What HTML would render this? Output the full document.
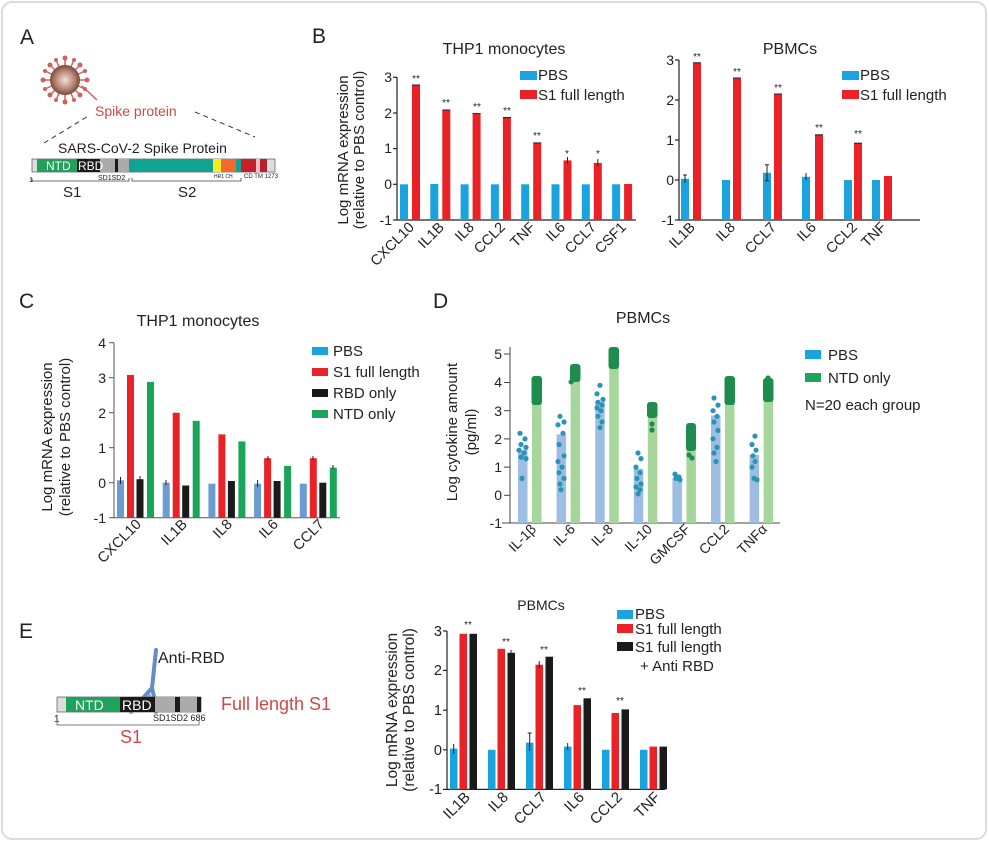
<!DOCTYPE html>
<html><head><meta charset="utf-8"><style>
html,body{margin:0;padding:0;background:#fff;}
svg{display:block;font-family:"Liberation Sans",Arial,sans-serif;}
.t{font-size:15px;fill:#222}
.s{font-size:10px;fill:#222}
</style></head><body>
<svg width="989" height="843" viewBox="0 0 989 843" xmlns="http://www.w3.org/2000/svg">
<defs><radialGradient id="vg" cx="50%" cy="50%" r="50%"><stop offset="0" stop-color="#f3e0d8"/><stop offset="0.6" stop-color="#b98a78"/><stop offset="1" stop-color="#7a4a3a"/></radialGradient></defs>
<rect x="2" y="2" width="984" height="837" rx="10" fill="#fff" stroke="#dcdcdc" stroke-width="2"/>

<!-- Panel A -->
<text x="20" y="44" style="font-size:21px" fill="#222">A</text>
<g stroke="#d0605a" stroke-width="1.5">
<line x1="65" y1="58" x2="65" y2="102"/><line x1="43" y1="80" x2="87" y2="80"/>
<line x1="50" y1="65" x2="80" y2="95"/><line x1="80" y1="65" x2="50" y2="95"/>
<line x1="56" y1="60" x2="74" y2="100"/><line x1="74" y1="60" x2="56" y2="100"/>
<line x1="45" y1="71" x2="85" y2="89"/><line x1="45" y1="89" x2="85" y2="71"/>
<line x1="82" y1="86" x2="97" y2="100"/>
</g>
<g fill="#d0605a"><circle cx="65" cy="58" r="2.5"/><circle cx="65" cy="102" r="2.5"/><circle cx="43" cy="80" r="2.5"/><circle cx="87" cy="80" r="2.5"/><circle cx="50" cy="65" r="2.5"/><circle cx="80" cy="65" r="2.5"/><circle cx="50" cy="95" r="2.5"/><circle cx="80" cy="95" r="2.5"/><circle cx="56" cy="60" r="2"/><circle cx="74" cy="60" r="2"/><circle cx="56" cy="100" r="2"/><circle cx="74" cy="100" r="2"/><circle cx="45" cy="71" r="2"/><circle cx="85" cy="89" r="2"/><circle cx="45" cy="89" r="2"/><circle cx="85" cy="71" r="2"/></g>
<circle cx="65" cy="80" r="15" fill="url(#vg)"/>
<text x="95" y="116" style="font-size:14px" fill="#d04848">Spike protein</text>
<g stroke="#333" stroke-dasharray="5,4" stroke-width="1"><line x1="44" y1="143" x2="90" y2="115"/><line x1="195" y1="112" x2="255" y2="137"/></g>
<text x="58" y="153" style="font-size:14px" fill="#222">SARS-CoV-2 Spike Protein</text>
<rect x="32" y="159" width="243" height="13" fill="#ddd" stroke="#555" stroke-width="0.7"/>
<rect x="37" y="159" width="40" height="13" fill="#1fa35a"/>
<rect x="77" y="159" width="23" height="13" fill="#1a1a1a"/>
<rect x="100" y="159" width="15" height="13" fill="#aaa"/>
<rect x="115" y="159" width="3" height="13" fill="#1a1a1a"/>
<rect x="118" y="159" width="11" height="13" fill="#aaa"/>
<rect x="129" y="159" width="84" height="13" fill="#0fa392"/>
<rect x="213" y="159" width="8" height="13" fill="#f3ee20"/>
<rect x="221" y="159" width="15" height="13" fill="#f36a2c"/>
<rect x="236" y="159" width="5" height="13" fill="#0fa392"/>
<rect x="241" y="159" width="15" height="13" fill="#c8202a"/>
<rect x="256" y="159" width="4" height="13" fill="#f2c0c0"/>
<rect x="260" y="159" width="7" height="13" fill="#b82030"/>
<text x="46" y="170" style="font-size:12px" fill="#fff">NTD</text>
<text x="78" y="170" style="font-size:12px" fill="#fff">RBD</text>
<text x="29" y="182" style="font-size:7px" fill="#222">1</text>
<text x="98" y="180" style="font-size:7px" fill="#222">SD1SD2</text>
<text x="214" y="178" style="font-size:5px" fill="#222">HR1 CH</text>
<text x="244" y="178" style="font-size:6px" fill="#222">CD  TM 1273</text>
<g stroke="#444" stroke-width="0.8" fill="none"><path d="M32 178 V181 H129 V178"/><path d="M132 178 V181 H241 V178"/></g>
<text x="63" y="197" style="font-size:15px" fill="#222">S1</text>
<text x="178" y="197" style="font-size:15px" fill="#222">S2</text>

<!-- Panel B -->
<text x="312" y="43" style="font-size:21px" fill="#222">B</text>
<text x="504" y="54" text-anchor="middle" style="font-size:16px" fill="#222">THP1 monocytes</text>
<text x="790" y="54" text-anchor="middle" style="font-size:16px" fill="#222">PBMCs</text>
<g transform="translate(348,150) rotate(-90)"><text text-anchor="middle" class="t">Log mRNA expression</text></g>
<g transform="translate(364,150) rotate(-90)"><text text-anchor="middle" class="t">(relative to PBS control)</text></g>
<g stroke="#222" stroke-width="1.2"><line x1="397" y1="77" x2="397" y2="220"/><line x1="397" y1="220" x2="636" y2="220"/>
<line x1="393" y1="77.3" x2="397" y2="77.3"/><line x1="393" y1="113" x2="397" y2="113"/><line x1="393" y1="148.6" x2="397" y2="148.6"/><line x1="393" y1="184.3" x2="397" y2="184.3"/><line x1="393" y1="220" x2="397" y2="220"/></g>
<g class="t" text-anchor="end" style="font-size:14px"><text x="392" y="82">3</text><text x="392" y="118">2</text><text x="392" y="153">1</text><text x="392" y="189">0</text><text x="392" y="225">-1</text></g>
<g fill="#1ba3e0"><rect x="400" y="184.3" width="8" height="35.7"/><rect x="430.3" y="184" width="8" height="36"/><rect x="460.6" y="184.3" width="8" height="35.7"/><rect x="490.9" y="184.3" width="8" height="35.7"/><rect x="521.2" y="184.3" width="8" height="35.7"/><rect x="551.5" y="184.3" width="8" height="35.7"/><rect x="581.8" y="184.3" width="8" height="35.7"/><rect x="612.1" y="184.3" width="8" height="35.7"/></g>
<g fill="#ea2228"><rect x="412" y="85.1" width="8" height="134.9"/><rect x="442.3" y="110" width="8" height="110"/><rect x="472.6" y="113.6" width="8" height="106.4"/><rect x="502.9" y="117.5" width="8" height="102.5"/><rect x="533.2" y="142.9" width="8" height="77.1"/><rect x="563.5" y="160.4" width="8" height="59.6"/><rect x="593.8" y="162.9" width="8" height="57.1"/><rect x="624.1" y="184" width="8" height="36"/></g>
<g stroke="#222" stroke-width="1"><line x1="412" y1="85" x2="420" y2="85"/><line x1="442.3" y1="110" x2="450.3" y2="110"/><line x1="472.6" y1="113.6" x2="480.6" y2="113.6"/><line x1="502.9" y1="117.5" x2="510.9" y2="117.5"/><line x1="533.2" y1="142.9" x2="541.2" y2="142.9"/><line x1="567.5" y1="157" x2="567.5" y2="164"/><line x1="597.8" y1="159" x2="597.8" y2="166"/></g>
<g class="s" text-anchor="middle"><text x="416" y="82">**</text><text x="446" y="106">**</text><text x="477" y="110">**</text><text x="507" y="114">**</text><text x="537" y="139">**</text><text x="567" y="157">*</text><text x="598" y="157">*</text></g>
<g class="t" text-anchor="end" style="font-size:14.5px">
<text transform="translate(415,228) rotate(-45)">CXCL10</text><text transform="translate(445,228) rotate(-45)">IL1B</text><text transform="translate(475,228) rotate(-45)">IL8</text><text transform="translate(506,228) rotate(-45)">CCL2</text><text transform="translate(536,228) rotate(-45)">TNF</text><text transform="translate(566,228) rotate(-45)">IL6</text><text transform="translate(597,228) rotate(-45)">CCL7</text><text transform="translate(627,228) rotate(-45)">CSF1</text></g>
<rect x="520" y="71" width="17" height="9" fill="#1ba3e0"/><text x="538" y="80" class="t">PBS</text>
<rect x="520" y="90" width="17" height="9" fill="#ea2228"/><text x="538" y="100" class="t">S1 full length</text>

<g stroke="#222" stroke-width="1.2"><line x1="679" y1="60" x2="679" y2="220"/><line x1="679" y1="220" x2="920" y2="220"/>
<line x1="675" y1="60" x2="679" y2="60"/><line x1="675" y1="100" x2="679" y2="100"/><line x1="675" y1="140" x2="679" y2="140"/><line x1="675" y1="180" x2="679" y2="180"/><line x1="675" y1="220" x2="679" y2="220"/></g>
<g class="t" text-anchor="end" style="font-size:14px"><text x="674" y="65">3</text><text x="674" y="105">2</text><text x="674" y="145">1</text><text x="674" y="185">0</text><text x="674" y="225">-1</text></g>
<g fill="#1ba3e0"><rect x="681" y="178.8" width="8" height="41.2"/><rect x="722" y="180" width="8" height="40"/><rect x="763" y="172.8" width="8" height="47.2"/><rect x="802" y="176.8" width="8" height="43.2"/><rect x="844" y="180" width="8" height="40"/><rect x="872" y="180" width="8" height="40"/></g>
<g fill="#ea2228"><rect x="693" y="62.8" width="8" height="157.2"/><rect x="733" y="78" width="8" height="142"/><rect x="774" y="94" width="8" height="126"/><rect x="815" y="134.8" width="8" height="85.2"/><rect x="854" y="143.2" width="8" height="76.8"/><rect x="884" y="176" width="8" height="44"/></g>
<g stroke="#222" stroke-width="1"><line x1="685" y1="175" x2="685" y2="183"/><line x1="683" y1="175" x2="687" y2="175"/><line x1="767" y1="164.8" x2="767" y2="180.8"/><line x1="765" y1="164.8" x2="769" y2="164.8"/><line x1="765" y1="180.8" x2="769" y2="180.8"/><line x1="806" y1="173" x2="806" y2="180"/><line x1="693" y1="62.8" x2="701" y2="62.8"/><line x1="733" y1="78" x2="741" y2="78"/><line x1="774" y1="94" x2="782" y2="94"/><line x1="815" y1="134.8" x2="823" y2="134.8"/><line x1="854" y1="143.2" x2="862" y2="143.2"/></g>
<g class="s" text-anchor="middle"><text x="697" y="60">**</text><text x="737" y="75">**</text><text x="778" y="91">**</text><text x="819" y="131">**</text><text x="858" y="137">**</text></g>
<g class="t" text-anchor="end" style="font-size:14.5px">
<text transform="translate(696,228) rotate(-45)">IL1B</text><text transform="translate(736,228) rotate(-45)">IL8</text><text transform="translate(777,228) rotate(-45)">CCL7</text><text transform="translate(817,228) rotate(-45)">IL6</text><text transform="translate(858,228) rotate(-45)">CCL2</text><text transform="translate(887,228) rotate(-45)">TNF</text></g>
<rect x="842" y="71" width="17" height="9" fill="#1ba3e0"/><text x="860" y="80" class="t">PBS</text>
<rect x="842" y="90" width="17" height="9" fill="#ea2228"/><text x="860" y="100" class="t">S1 full length</text>

<!-- Panel C -->
<text x="19" y="308" style="font-size:21px" fill="#222">C</text>
<text x="198" y="326" text-anchor="middle" style="font-size:16px" fill="#222">THP1 monocytes</text>
<g transform="translate(52,437) rotate(-90)"><text text-anchor="middle" class="t">Log mRNA expression</text></g>
<g transform="translate(70,437) rotate(-90)"><text text-anchor="middle" class="t">(relative to PBS control)</text></g>
<g stroke="#555" stroke-width="1"><line x1="114" y1="342.7" x2="114" y2="517.7"/><line x1="114" y1="517.7" x2="340" y2="517.7"/>
<line x1="109" y1="342.7" x2="114" y2="342.7"/><line x1="109" y1="377.7" x2="114" y2="377.7"/><line x1="109" y1="412.7" x2="114" y2="412.7"/><line x1="109" y1="447.7" x2="114" y2="447.7"/><line x1="109" y1="482.7" x2="114" y2="482.7"/><line x1="109" y1="517.7" x2="114" y2="517.7"/></g>
<g class="t" text-anchor="end" style="font-size:14px"><text x="106" y="348">4</text><text x="106" y="383">3</text><text x="106" y="418">2</text><text x="106" y="453">1</text><text x="106" y="488">0</text><text x="106" y="523">-1</text></g>
<g fill="#6b9bd1"><rect x="117" y="480.3" width="7" height="37.4"/><rect x="162.7" y="482.7" width="7" height="35"/><rect x="208.4" y="483.7" width="7" height="34"/><rect x="254.1" y="483.7" width="7" height="34"/><rect x="299.8" y="483.7" width="7" height="34"/></g>
<g fill="#ea2228"><rect x="127" y="374.9" width="7" height="142.8"/><rect x="172.7" y="412.7" width="7" height="105"/><rect x="218.4" y="434.4" width="7" height="83.3"/><rect x="264.1" y="458.2" width="7" height="59.5"/><rect x="309.8" y="458.2" width="7" height="59.5"/></g>
<g fill="#1a1a1a"><rect x="136.5" y="479.2" width="7" height="38.5"/><rect x="182.2" y="485.5" width="7" height="32.2"/><rect x="227.9" y="481" width="7" height="36.7"/><rect x="273.6" y="481" width="7" height="36.7"/><rect x="319.3" y="482.7" width="7" height="35"/></g>
<g fill="#1ba55a"><rect x="147" y="381.9" width="7" height="135.8"/><rect x="192.7" y="420.8" width="7" height="96.9"/><rect x="238.4" y="441.4" width="7" height="76.3"/><rect x="284.1" y="465.9" width="7" height="51.8"/><rect x="329.8" y="467.7" width="7" height="50"/></g>
<g stroke="#222" stroke-width="1"><line x1="120.5" y1="477" x2="120.5" y2="484"/><line x1="140" y1="476" x2="140" y2="480"/><line x1="166" y1="480" x2="166" y2="485"/><line x1="257.6" y1="480" x2="257.6" y2="487"/><line x1="268" y1="456" x2="268" y2="460"/><line x1="313" y1="456" x2="313" y2="460"/><line x1="333" y1="465" x2="333" y2="469"/></g>
<g class="t" text-anchor="end" style="font-size:14.5px">
<text transform="translate(142,525) rotate(-45)">CXCL10</text><text transform="translate(188,525) rotate(-45)">IL1B</text><text transform="translate(233,525) rotate(-45)">IL8</text><text transform="translate(279,525) rotate(-45)">IL6</text><text transform="translate(325,525) rotate(-45)">CCL7</text></g>
<rect x="312" y="347" width="16" height="8" fill="#1ba3e0"/><text x="333" y="356" class="t">PBS</text>
<rect x="312" y="368" width="16" height="8" fill="#ea2228"/><text x="333" y="377" class="t">S1 full length</text>
<rect x="312" y="389" width="16" height="8" fill="#1a1a1a"/><text x="333" y="398" class="t">RBD only</text>
<rect x="312" y="410" width="16" height="8" fill="#1ba55a"/><text x="333" y="419" class="t">NTD only</text>

<!-- Panel D -->
<text x="433" y="308" style="font-size:21px" fill="#222">D</text>
<text x="643" y="323" text-anchor="middle" style="font-size:16px" fill="#222">PBMCs</text>
<g transform="translate(457,432) rotate(-90)"><text text-anchor="middle" class="t">Log cytokine amount</text></g>
<g transform="translate(476,432) rotate(-90)"><text text-anchor="middle" class="t">(pg/ml)</text></g>
<g stroke="#444" stroke-width="1"><line x1="510" y1="347" x2="510" y2="523"/><line x1="502" y1="523" x2="780" y2="523"/>
<line x1="504" y1="354" x2="510" y2="354"/><line x1="504" y1="382.5" x2="510" y2="382.5"/><line x1="504" y1="410.7" x2="510" y2="410.7"/><line x1="504" y1="438.9" x2="510" y2="438.9"/><line x1="504" y1="467.1" x2="510" y2="467.1"/><line x1="504" y1="495.3" x2="510" y2="495.3"/></g>
<g class="t" text-anchor="end" style="font-size:14px"><text x="502" y="359">5</text><text x="502" y="387">4</text><text x="502" y="416">3</text><text x="502" y="444">2</text><text x="502" y="472">1</text><text x="502" y="500">0</text><text x="502" y="528">-1</text></g>
<g fill="#9dbde3"><rect x="518" y="449.9" width="9.5" height="73.1"/><rect x="556.6" y="434.4" width="9.5" height="88.6"/><rect x="595.2" y="401.9" width="9.5" height="121.1"/><rect x="633.8" y="468.8" width="9.5" height="54.2"/><rect x="672.4" y="478.1" width="9.5" height="44.9"/><rect x="711" y="415.5" width="9.5" height="107.5"/><rect x="749.6" y="455" width="9.5" height="68"/></g>
<g fill="#a6d69b"><rect x="532" y="387.8" width="9.5" height="135.2"/><rect x="570.6" y="370.9" width="9.5" height="152.1"/><rect x="609.2" y="355.4" width="9.5" height="167.6"/><rect x="647.8" y="410.4" width="9.5" height="112.6"/><rect x="686.4" y="441.4" width="9.5" height="81.6"/><rect x="725" y="387.8" width="9.5" height="135.2"/><rect x="763.6" y="392.1" width="9.5" height="130.9"/></g>
<g fill="#1e8c4e">
<rect x="531.5" y="376" width="10.5" height="29" rx="3"/><rect x="570" y="364" width="10.5" height="18" rx="3"/><rect x="608.5" y="347" width="10.5" height="22" rx="3"/><rect x="647" y="402" width="10.5" height="16" rx="3"/><rect x="686" y="423" width="10" height="28" rx="3"/><rect x="724.5" y="376" width="10.5" height="29" rx="3"/><rect x="763" y="378" width="10.5" height="24" rx="3"/>
<circle cx="652" cy="424" r="2.6"/><circle cx="652" cy="430" r="2.6"/><circle cx="689" cy="455" r="2.6"/><circle cx="692" cy="458" r="2.6"/><circle cx="768" cy="378" r="2.6"/><circle cx="571" cy="382" r="2.5"/></g>
<g fill="#2a94b8">
<circle cx="520" cy="433.3" r="2.6"/><circle cx="525" cy="438.9" r="2.6"/><circle cx="521" cy="444.5" r="2.6"/><circle cx="526" cy="447.4" r="2.6"/><circle cx="519" cy="450.2" r="2.6"/><circle cx="524" cy="453" r="2.6"/><circle cx="521" cy="457.2" r="2.6"/><circle cx="526" cy="458.6" r="2.6"/><circle cx="522" cy="478.4" r="2.6"/>
<circle cx="560" cy="416.3" r="2.6"/><circle cx="564" cy="422" r="2.6"/><circle cx="558" cy="424.8" r="2.6"/><circle cx="563" cy="433.3" r="2.6"/><circle cx="559" cy="444.5" r="2.6"/><circle cx="564" cy="455.8" r="2.6"/><circle cx="558" cy="461.5" r="2.6"/><circle cx="562" cy="467.1" r="2.6"/><circle cx="559" cy="472.7" r="2.6"/><circle cx="564" cy="478.4" r="2.6"/><circle cx="560" cy="484" r="2.6"/><circle cx="561" cy="489.7" r="2.6"/>
<circle cx="600" cy="385.3" r="2.6"/><circle cx="597" cy="393.8" r="2.6"/><circle cx="603" cy="399.4" r="2.6"/><circle cx="598" cy="402.2" r="2.6"/><circle cx="602" cy="405.1" r="2.6"/><circle cx="597" cy="407.9" r="2.6"/><circle cx="601" cy="410.7" r="2.6"/><circle cx="598" cy="416.3" r="2.6"/><circle cx="602" cy="422" r="2.6"/><circle cx="600" cy="427.6" r="2.6"/>
<circle cx="638" cy="453" r="2.6"/><circle cx="641" cy="458.6" r="2.6"/><circle cx="636" cy="467.1" r="2.6"/><circle cx="640" cy="472.7" r="2.6"/><circle cx="637" cy="478.4" r="2.6"/><circle cx="641" cy="484" r="2.6"/><circle cx="636" cy="486.8" r="2.6"/><circle cx="640" cy="489.7" r="2.6"/><circle cx="638" cy="493.9" r="2.6"/>
<circle cx="675" cy="474.1" r="2.6"/><circle cx="679" cy="477" r="2.6"/><circle cx="676" cy="478.4" r="2.6"/><circle cx="680" cy="479.8" r="2.6"/>
<circle cx="714" cy="398" r="2.6"/><circle cx="718" cy="405.1" r="2.6"/><circle cx="713" cy="410.7" r="2.6"/><circle cx="717" cy="416.3" r="2.6"/><circle cx="714" cy="422" r="2.6"/><circle cx="718" cy="430.4" r="2.6"/><circle cx="713" cy="438.9" r="2.6"/><circle cx="717" cy="447.4" r="2.6"/><circle cx="714" cy="453" r="2.6"/><circle cx="716" cy="461.5" r="2.6"/>
<circle cx="755" cy="436.1" r="2.6"/><circle cx="752" cy="444.5" r="2.6"/><circle cx="756" cy="450.2" r="2.6"/><circle cx="753" cy="455.8" r="2.6"/><circle cx="755" cy="461.5" r="2.6"/><circle cx="752" cy="467.1" r="2.6"/><circle cx="754" cy="478.4" r="2.6"/><circle cx="757" cy="479.8" r="2.6"/></g>
<g class="t" text-anchor="end" style="font-size:14px">
<text transform="translate(537,530) rotate(-45)">IL-1β</text><text transform="translate(576,530) rotate(-45)">IL-6</text><text transform="translate(614,530) rotate(-45)">IL-8</text><text transform="translate(653,530) rotate(-45)">IL-10</text><text transform="translate(691,530) rotate(-45)">GMCSF</text><text transform="translate(730,530) rotate(-45)">CCL2</text><text transform="translate(768,530) rotate(-45)">TNFα</text></g>
<rect x="805" y="350" width="16" height="9" fill="#1ba3e0"/><text x="828" y="360" class="t">PBS</text>
<rect x="805" y="373" width="16" height="9" fill="#1ba55a"/><text x="828" y="383" class="t">NTD only</text>
<text x="805" y="410" class="t">N=20 each group</text>

<!-- Panel E -->
<text x="19" y="638" style="font-size:21px" fill="#222">E</text>
<g stroke="#5f8fc4" stroke-width="4" stroke-linecap="round" fill="none">
<line x1="156" y1="650" x2="152" y2="688"/><line x1="152" y1="688" x2="136" y2="706"/><line x1="152" y1="688" x2="157" y2="710"/></g>
<g stroke="#9a9ad8" stroke-width="4" stroke-linecap="round"><line x1="144" y1="698" x2="131" y2="712"/><line x1="149" y1="696" x2="156" y2="712"/></g>
<text x="158" y="663" style="font-size:16px" fill="#222">Anti-RBD</text>
<rect x="57" y="697" width="144" height="15" fill="#ddd" stroke="#555" stroke-width="0.7"/>
<rect x="66" y="697" width="54" height="15" fill="#1fa35a"/>
<rect x="120" y="697" width="35" height="15" fill="#1a1a1a"/>
<rect x="155" y="697" width="20" height="15" fill="#aaa"/>
<rect x="175" y="697" width="5" height="15" fill="#1a1a1a"/>
<rect x="180" y="697" width="17" height="15" fill="#aaa"/>
<rect x="197" y="697" width="4" height="15" fill="#1a1a1a"/>
<text x="75" y="710" style="font-size:14px" fill="#fff">NTD</text>
<text x="122" y="710" style="font-size:14px" fill="#fff">RBD</text>
<text x="221" y="710" style="font-size:18px" fill="#d04848">Full length S1</text>
<text x="54" y="722" style="font-size:10px" fill="#222">1</text>
<text x="153" y="721" style="font-size:9px" fill="#222">SD1SD2 686</text>
<path d="M57 720 V725 H199 V720" stroke="#555" stroke-width="0.8" fill="none"/>
<text x="120" y="743" style="font-size:18px" fill="#d04848">S1</text>

<text x="541" y="610" text-anchor="middle" style="font-size:14px" fill="#222">PBMCs</text>
<g transform="translate(397,710) rotate(-90)"><text text-anchor="middle" class="t" style="font-size:15.5px">Log mRNA expression</text></g>
<g transform="translate(414,710) rotate(-90)"><text text-anchor="middle" class="t" style="font-size:15.5px">(relative to PBS control)</text></g>
<g stroke="#222" stroke-width="1.2"><line x1="447" y1="631" x2="447" y2="789.4"/><line x1="447" y1="789.4" x2="665" y2="789.4"/>
<line x1="443" y1="631" x2="447" y2="631"/><line x1="443" y1="670.4" x2="447" y2="670.4"/><line x1="443" y1="710.2" x2="447" y2="710.2"/><line x1="443" y1="749.8" x2="447" y2="749.8"/><line x1="443" y1="789.4" x2="447" y2="789.4"/></g>
<g class="t" text-anchor="end" style="font-size:14.5px"><text x="442" y="636">3</text><text x="442" y="675">2</text><text x="442" y="715">1</text><text x="442" y="755">0</text><text x="442" y="794">-1</text></g>
<g fill="#1ba3e0"><rect x="450" y="748.6" width="7.5" height="40.8"/><rect x="488" y="749.8" width="7.5" height="39.6"/><rect x="526" y="742.7" width="7.5" height="46.7"/><rect x="564" y="746.6" width="7.5" height="42.8"/><rect x="602" y="749.8" width="7.5" height="39.6"/><rect x="640" y="749.8" width="7.5" height="39.6"/></g>
<g fill="#ea2228"><rect x="459.5" y="633.8" width="7.5" height="155.6"/><rect x="497.5" y="648.8" width="7.5" height="140.6"/><rect x="535.5" y="664.7" width="7.5" height="124.7"/><rect x="573.5" y="705.1" width="7.5" height="84.3"/><rect x="611.5" y="713" width="7.5" height="76.4"/><rect x="649.5" y="746.6" width="7.5" height="42.8"/></g>
<g fill="#1a1a1a"><rect x="469.5" y="633.8" width="7.5" height="155.6"/><rect x="507.5" y="652.8" width="7.5" height="136.6"/><rect x="545.5" y="656.7" width="7.5" height="132.7"/><rect x="583.5" y="698.3" width="7.5" height="91.1"/><rect x="621.5" y="709.4" width="7.5" height="80"/><rect x="659.5" y="746.6" width="7.5" height="42.8"/></g>
<g stroke="#222" stroke-width="1"><line x1="453.7" y1="744" x2="453.7" y2="754"/><line x1="529.7" y1="733" x2="529.7" y2="751"/><line x1="527.7" y1="733" x2="531.7" y2="733"/><line x1="567.7" y1="743" x2="567.7" y2="750"/><line x1="539.2" y1="661" x2="539.2" y2="668"/><line x1="511" y1="650" x2="511" y2="655"/></g>
<g class="s" text-anchor="middle"><text x="468" y="628">**</text><text x="506" y="645">**</text><text x="544" y="653">**</text><text x="582" y="694">**</text><text x="620" y="704">**</text></g>
<g class="t" text-anchor="end" style="font-size:15px">
<text transform="translate(471,798) rotate(-45)">IL1B</text><text transform="translate(509,798) rotate(-45)">IL8</text><text transform="translate(547,798) rotate(-45)">CCL7</text><text transform="translate(585,798) rotate(-45)">IL6</text><text transform="translate(623,798) rotate(-45)">CCL2</text><text transform="translate(661,798) rotate(-45)">TNF</text></g>
<rect x="617" y="610" width="16" height="9" fill="#1ba3e0"/><text x="635" y="619" class="t">PBS</text>
<rect x="617" y="624" width="16" height="9" fill="#ea2228"/><text x="635" y="634" class="t">S1 full length</text>
<rect x="617" y="642" width="16" height="9" fill="#1a1a1a"/><text x="635" y="652" class="t">S1 full length</text>
<text x="640" y="671" class="t">+ Anti RBD</text>
</svg>
</body></html>
